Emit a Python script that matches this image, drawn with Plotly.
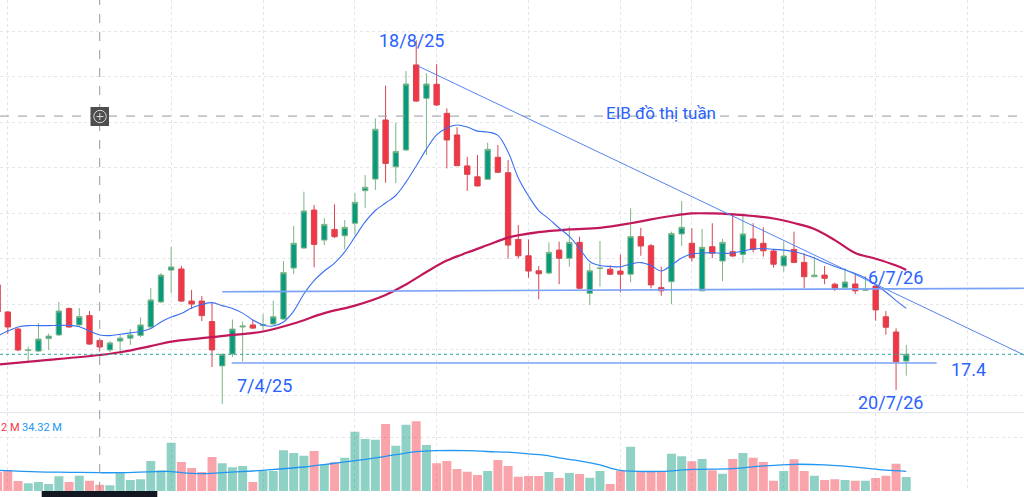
import plotly.graph_objects as go

# ---------------- data (weekly candles, index 0..89) ----------------
bar_index = list(range(90))

open_ = [20.84, 19.65, 18.90, 17.96, 17.93, 18.48, 18.64, 19.80, 19.08, 19.49,
         18.40, 17.98, 18.37, 18.50, 18.62, 18.99, 20.09, 21.49, 21.54, 20.13,
         20.13, 19.23, 17.28, 17.80, 18.99, 19.08, 19.06, 19.12, 19.34, 21.58,
         22.46, 24.13, 22.81, 23.28, 23.00, 23.55, 24.98, 25.49, 28.09, 26.03,
         26.77, 30.51, 29.04, 29.66, 28.38, 27.43, 26.07, 25.59, 25.48, 26.45,
         25.77, 22.84, 22.12, 21.46, 21.36, 22.37, 22.01, 22.71, 20.47, 21.56,
         21.53, 21.45, 21.31, 22.96, 22.56, 20.72, 20.98, 23.08, 22.67, 20.58,
         22.52, 21.89, 22.30, 22.18, 22.86, 22.67, 22.33, 21.68, 22.40, 21.83,
         21.20, 21.27, 20.87, 20.72, 20.88, 20.60, 20.79, 19.44, 18.77, 17.49]

high = [20.92, 19.69, 18.94, 18.13, 19.17, 18.70, 20.09, 19.85, 19.82, 19.69,
        18.42, 18.37, 18.68, 18.90, 19.41, 20.70, 21.36, 22.51, 21.67, 20.62,
        20.35, 20.09, 17.80, 19.32, 19.23, 19.30, 19.56, 20.15, 21.89, 23.43,
        24.94, 24.35, 23.78, 24.38, 23.69, 24.87, 25.67, 28.16, 29.60, 27.97,
        30.24, 31.60, 30.14, 30.54, 28.60, 27.77, 26.47, 26.55, 27.09, 26.99,
        26.33, 23.47, 22.84, 21.67, 22.71, 22.74, 23.40, 22.96, 21.79, 22.77,
        21.71, 22.18, 24.21, 23.35, 22.64, 21.64, 23.18, 24.53, 23.33, 23.30,
        23.55, 22.86, 23.99, 23.99, 23.55, 23.37, 22.37, 22.74, 23.18, 22.23,
        22.08, 21.67, 20.94, 21.57, 21.35, 21.23, 20.81, 19.69, 18.93, 18.20]

low = [19.56, 18.68, 17.93, 17.42, 17.89, 17.98, 18.59, 18.95, 18.99, 18.20,
       17.91, 17.89, 17.76, 18.20, 18.55, 18.92, 20.04, 20.48, 20.09, 19.78,
       19.25, 17.23, 15.60, 17.67, 17.47, 18.90, 18.83, 19.08, 19.30, 21.32,
       22.42, 21.61, 22.59, 22.90, 22.40, 23.06, 24.23, 25.01, 25.33, 25.31,
       26.73, 28.88, 26.55, 28.70, 25.96, 26.07, 24.97, 25.16, 25.45, 25.75,
       21.99, 22.01, 21.16, 20.21, 21.31, 20.87, 21.64, 20.66, 19.96, 20.76,
       21.27, 20.51, 20.95, 22.12, 20.69, 20.36, 19.99, 22.55, 21.86, 20.57,
       22.01, 21.01, 22.08, 21.81, 22.27, 22.08, 21.60, 21.42, 21.80, 20.69,
       21.19, 20.87, 20.57, 20.69, 20.44, 20.57, 19.27, 18.65, 16.22, 16.85]

close = [19.65, 18.99, 17.98, 17.98, 18.46, 18.59, 19.69, 18.99, 19.45, 18.24,
         18.11, 18.29, 18.50, 18.64, 19.08, 20.18, 21.27, 21.63, 20.13, 20.00,
         19.49, 17.98, 17.79, 18.90, 19.03, 18.94, 19.10, 19.44, 21.38, 22.67,
         24.09, 22.62, 23.50, 22.96, 23.37, 24.47, 25.13, 27.68, 26.18, 26.70,
         29.67, 28.92, 29.67, 28.75, 27.21, 26.08, 25.70, 25.19, 26.80, 25.79,
         22.59, 22.12, 21.45, 21.33, 22.27, 22.01, 22.71, 20.69, 21.46, 21.58,
         21.31, 21.31, 22.96, 22.55, 20.84, 20.58, 23.10, 23.37, 22.03, 22.49,
         22.23, 22.71, 22.11, 23.08, 22.40, 22.34, 21.75, 22.11, 21.83, 21.20,
         21.27, 21.13, 20.69, 20.97, 20.58, 20.63, 19.74, 18.98, 17.46, 17.79]

volume_m = [36.2, 39.4, 18.8, 14.4, 16.9, 13.1, 27.6, 16.9, 28.7, 19.3,
            11.8, 10.7, 35.6, 20.6, 21.9, 56.3, 38.8, 90.6, 54.4, 43.1,
            35.6, 63.8, 51.9, 44.4, 46.9, 16.9, 37.5, 37.5, 76.3, 71.3,
            66.2, 75.0, 50.1, 53.8, 62.4, 111.2, 97.5, 96.2, 125.6, 84.9,
            124.3, 130.7, 86.3, 51.9, 56.3, 41.3, 36.2, 30.0, 37.5, 58.1,
            46.9, 26.8, 28.1, 28.1, 35.6, 24.4, 33.8, 31.9, 24.9, 37.5,
            13.1, 38.1, 83.1, 37.5, 37.5, 37.5, 69.9, 65.1, 55.7, 60.0,
            38.8, 32.4, 60.0, 71.3, 62.4, 54.4, 19.3, 37.5, 59.4, 37.5,
            28.7, 20.6, 21.9, 20.6, 19.3, 19.3, 24.4, 28.7, 51.2, 26.3]

# short moving average (blue) at every bar
ma_fast = [18.59, 18.81, 18.99, 19.05, 19.05, 19.05, 19.06, 19.06, 19.00, 18.81,
           18.64, 18.61, 18.67, 18.73, 18.79, 18.92, 19.21, 19.43, 19.58, 19.82,
           19.98, 20.06, 19.93, 19.80, 19.60, 19.30, 19.08, 19.03, 19.21, 19.69,
           20.44, 21.03, 21.45, 21.80, 22.29, 22.95, 23.61, 24.11, 24.44, 24.77,
           25.36, 26.07, 26.81, 27.43, 27.74, 27.87, 27.78, 27.60, 27.56, 27.41,
           26.68, 25.54, 24.75, 24.11, 23.74, 23.34, 22.97, 22.44, 21.87, 21.69,
           21.65, 21.64, 21.76, 21.82, 21.69, 21.45, 21.71, 22.02, 22.20, 22.24,
           22.26, 22.23, 22.24, 22.33, 22.42, 22.44, 22.40, 22.37, 22.31, 22.18,
           22.02, 21.82, 21.65, 21.50, 21.34, 21.14, 20.84, 20.53, 20.15, 19.81]

ma_slow_idx = [0, 5, 10, 12, 15, 17, 20, 23, 26, 29, 32, 35, 38, 40, 42, 44, 46, 48,
               50, 53, 56, 59, 62, 64, 66, 68, 70, 72, 74, 76, 78, 80, 82, 84, 86, 88, 89]
ma_slow = [17.34, 17.54, 17.76, 17.88, 18.15, 18.35, 18.50, 18.64, 18.79, 19.14,
           19.60, 19.93, 20.40, 20.86, 21.41, 21.91, 22.26, 22.59, 22.92, 23.16,
           23.28, 23.35, 23.55, 23.72, 23.87, 23.98, 23.98, 23.94, 23.87, 23.76,
           23.56, 23.30, 22.81, 22.24, 21.99, 21.69, 21.50]

# volume moving average (millions), sampled bars
vol_ma_idx = [0, 4, 7, 10, 12, 17, 18, 20, 22, 25, 26, 30, 33, 36, 39, 41, 43, 46,
              49, 50, 52, 54, 55, 57, 59, 60, 61, 65, 68, 72, 75, 78, 81, 85, 87, 89]
vol_ma = [38.8, 36.0, 35.1, 34.3, 34.3, 36.5, 34.3, 32.5, 34.5, 37.5, 38.8, 45.0,
          52.0, 59.3, 68.0, 73.7, 75.6, 75.6, 73.2, 72.7, 69.5, 66.0, 62.0, 56.5,
          49.0, 43.0, 38.5, 36.9, 40.5, 42.0, 47.0, 50.1, 48.9, 43.0, 39.0, 36.9]

# drawing-tool lines (bar index, price)
trend_x = [41.18, 100.53]
trend_y = [30.46, 17.76]
hline1_x = [22.0, 100.53]
hline1_y = [20.54, 20.69]
support_x = [22.93, 91.98]
support_level = 17.41

price_grid = [16, 18, 20, 22, 24, 26, 28, 30, 32]
time_grid = [1, 17, 26, 35, 43, 52, 61, 68, 77, 86, 95]
crosshair_bar = 10
crosshair_price = 28.26

# ---------------- figure ----------------
GREEN = '#089981'
RED = '#f23645'
BLUE_TXT = '#2962ff'

vol_colors = ['rgba(8,153,129,0.45)' if c >= o else 'rgba(242,54,69,0.45)'
              for o, c in zip(open_, close)]

fig = go.Figure()

fig.add_trace(go.Bar(
    x=bar_index, y=volume_m, marker=dict(color=vol_colors, line=dict(width=0)),
    xaxis='x', yaxis='y2', showlegend=False, hoverinfo='skip'))

fig.add_trace(go.Scatter(
    x=vol_ma_idx, y=vol_ma, mode='lines', line=dict(color='#2196f3', width=1.3, shape='spline'),
    xaxis='x', yaxis='y2', showlegend=False, hoverinfo='skip'))

fig.add_trace(go.Scatter(
    x=ma_slow_idx, y=ma_slow, mode='lines', line=dict(color='#c2185b', width=2.2, shape='spline'),
    xaxis='x', yaxis='y', showlegend=False, hoverinfo='skip'))

fig.add_trace(go.Scatter(
    x=bar_index, y=ma_fast, mode='lines', line=dict(color='#3a6ff2', width=1.1, shape='spline'),
    xaxis='x', yaxis='y', showlegend=False, hoverinfo='skip'))

fig.add_trace(go.Scatter(
    x=trend_x, y=trend_y, mode='lines', line=dict(color='#5285f0', width=1),
    xaxis='x', yaxis='y', showlegend=False, hoverinfo='skip'))
fig.add_trace(go.Scatter(
    x=hline1_x, y=hline1_y, mode='lines', line=dict(color='#7aa2f7', width=1.6),
    xaxis='x', yaxis='y', showlegend=False, hoverinfo='skip'))
fig.add_trace(go.Scatter(
    x=support_x, y=[support_level, support_level], mode='lines', line=dict(color='#7aa2f7', width=1.6),
    xaxis='x', yaxis='y', showlegend=False, hoverinfo='skip'))

fig.add_trace(go.Candlestick(
    x=bar_index, open=open_, high=high, low=low, close=close,
    increasing=dict(fillcolor=GREEN, line=dict(color='#7db685', width=1)),
    decreasing=dict(fillcolor=RED, line=dict(color='#d64550', width=1)),
    whiskerwidth=0, xaxis='x', yaxis='y', showlegend=False))

P_TOP = 1.0
SEP = 1 - 412.7 / 497
VOL_BOT = 1 - 491 / 497

shapes = [
    # pane separator
    dict(type='line', xref='paper', yref='paper', x0=0, x1=1, y0=SEP, y1=SEP,
         line=dict(color='#e0e3eb', width=1)),
    # last price dotted line
    dict(type='line', xref='paper', yref='y', x0=0, x1=1, y0=close[-1], y1=close[-1],
         line=dict(color='#26a69a', width=1, dash='dot')),
    # crosshair
    dict(type='line', xref='x', yref='paper', x0=crosshair_bar, x1=crosshair_bar,
         y0=VOL_BOT, y1=1, line=dict(color='#9598a1', width=1, dash='dash')),
    dict(type='line', xref='paper', yref='y', x0=0, x1=1, y0=crosshair_price, y1=crosshair_price,
         line=dict(color='#9598a1', width=1, dash='dash')),
    # crosshair "+" button
    dict(type='rect', xref='paper', yref='paper', x0=90.5 / 1024, x1=109 / 1024,
         y0=1 - 126 / 497, y1=1 - 107 / 497, fillcolor='#4e4e4e', line=dict(width=0), layer='above'),
    dict(type='circle', xref='paper', yref='paper', x0=93.8 / 1024, x1=106.2 / 1024,
         y0=1 - 122.7 / 497, y1=1 - 110.3 / 497, line=dict(color='#d8d8d8', width=1), layer='above'),
    dict(type='line', xref='paper', yref='paper', x0=96.5 / 1024, x1=103.5 / 1024,
         y0=1 - 116.5 / 497, y1=1 - 116.5 / 497, line=dict(color='#d8d8d8', width=1), layer='above'),
    dict(type='line', xref='paper', yref='paper', x0=99.8 / 1024, x1=99.8 / 1024,
         y0=1 - 120 / 497, y1=1 - 113 / 497, line=dict(color='#d8d8d8', width=1), layer='above'),
    # dark strip at bottom-left
    dict(type='rect', xref='paper', yref='paper', x0=41.7 / 1024, x1=157.3 / 1024,
         y0=0, y1=1 - 491 / 497, fillcolor='#131722', line=dict(width=0), layer='above'),
]

def txt(t, px, py, size=18, color=BLUE_TXT, xanchor='center'):
    return dict(text=t, x=px / 1024, y=1 - py / 497, xref='paper', yref='paper',
                xanchor=xanchor, yanchor='middle', showarrow=False, borderpad=0,
                font=dict(family='Roboto', size=size, color=color))

annotations = [
    txt('18/8/25', 411, 41),
    txt('EIB đồ thị tuần', 661, 113, size=17),
    txt('6/7/26', 895, 277),
    txt('17.4', 968, 369),
    txt('20/7/26', 890, 402),
    txt('7/4/25', 264, 385),
    txt('2 M', 0, 427, size=11, color=RED, xanchor='left'),
    txt('34.32 M', 21, 427, size=11, color='#2196f3', xanchor='left'),
]

GRID = '#e3e5ea'
fig.update_layout(
    width=1024, height=497, autosize=False,
    margin=dict(l=0, r=0, t=0, b=0),
    paper_bgcolor='white', plot_bgcolor='white',
    showlegend=False, bargap=0.12, boxgap=0.25,
    xaxis=dict(domain=[0, 1], range=[0.235, 100.53], anchor='y2',
               showticklabels=False, ticks='', tickmode='array', tickvals=time_grid,
               showgrid=True, gridcolor=GRID, griddash='dot', gridwidth=1,
               zeroline=False, showline=False, rangeslider=dict(visible=False), fixedrange=True),
    yaxis=dict(domain=[SEP, P_TOP], range=[33.363 - 0.043956 * 412.7, 33.363], anchor='x',
               side='right', showticklabels=False, ticks='', tickmode='array', tickvals=price_grid,
               showgrid=True, gridcolor=GRID, griddash='dot', zeroline=False, showline=False,
               fixedrange=True),
    yaxis2=dict(domain=[VOL_BOT, SEP], range=[0, 146.8], anchor='x',
                side='right', showticklabels=False, ticks='', tickmode='array', tickvals=[100],
                showgrid=True, gridcolor=GRID, griddash='dot', zeroline=False, showline=False,
                fixedrange=True),
    shapes=shapes, annotations=annotations,
)

fig.write_html('out.html', config={'displayModeBar': False},
               post_script="document.body.style.margin='0px';document.body.style.padding='0px';")
